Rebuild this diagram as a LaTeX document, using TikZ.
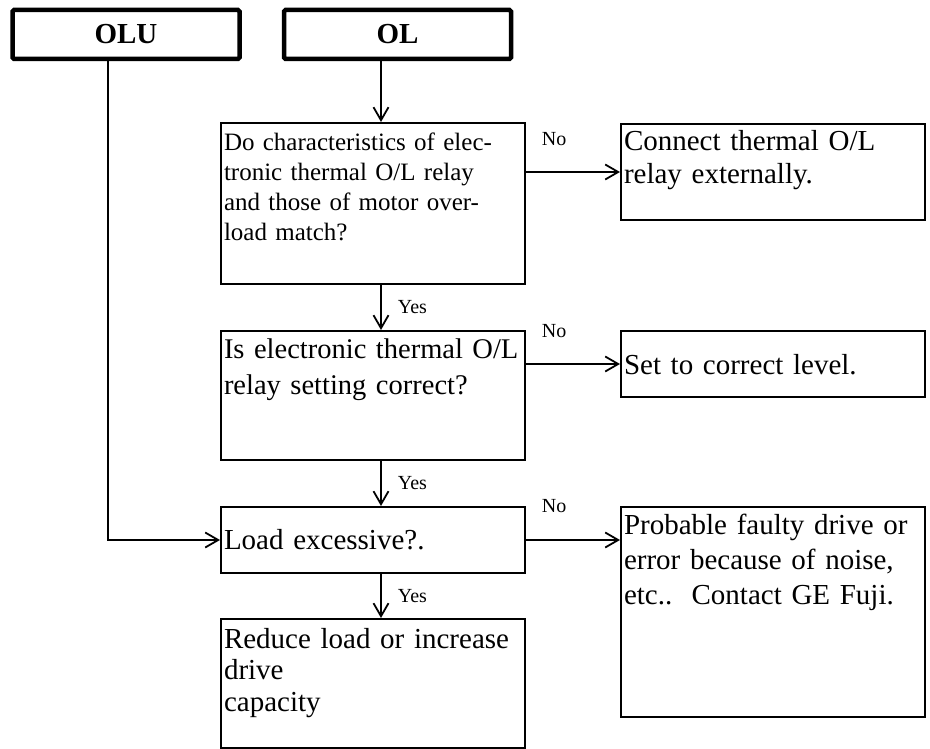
\documentclass[tikz,border=0pt]{standalone}
\usepackage{fontspec}
\setmainfont{Liberation Serif}
\usetikzlibrary{arrows.meta,positioning,calc}

\begin{document}
\begin{tikzpicture}[
	x=1pt, y=-1pt,
	startbox/.style={draw, line width=4.5pt, rounded corners=1.5pt,
		minimum width=227pt, minimum height=49pt, inner sep=0pt,
		font=\fontsize{29}{34}\selectfont\bfseries},
	flowbox/.style={draw, line width=2pt, anchor=north west,
		inner xsep=3pt, inner ysep=0pt, text width=298pt, align=left,
		font=\fontsize{29}{35}\selectfont},
	arr/.style={line width=1.8pt, -{Straight Barb[length=13pt,width=15pt]}},
	lbl/.style={font=\fontsize{20}{24}\selectfont, inner sep=2pt}
	]
	
	\useasboundingbox (0,0) rectangle (930,749);
	
	% starting codes
	\node[startbox] (olu) at (126,34.5) {OLU};
	\node[startbox] (ol) at (397.5,34.5) {OL};
	
	\coordinate (trunk) at (108,0);
	\coordinate (spine) at (381,0);
	
	% questions
	\node[
	flowbox,
	text height=28pt, text depth=133pt,
	font=\fontsize{25}{30}\selectfont
	] (q1) at (220,122)
	{Do characteristics of elec-\\tronic thermal O/L relay\\and those of motor over-\\load match?};
	
	\node[
	flowbox,
	text height=27pt, text depth=102pt,
	font=\fontsize{28.5}{36}\selectfont
	] (q2) at (220,330)
	{\mbox{Is electronic thermal O/L}\\relay setting correct?};
	
	\node[
	flowbox,
	text height=42pt, text depth=24pt
	] (q3) at (220,506)
	{Load excessive?.};
	
	\node[
	flowbox,
	text height=29pt, text depth=100pt,
	font=\fontsize{29}{31.5}\selectfont
	] (rd) at (220,618)
	{Reduce load or increase\\drive\\capacity};
	
	% remedies
	\node[
	flowbox,
	text height=27pt, text depth=69pt,
	font=\fontsize{29}{33}\selectfont
	] (a1) at (620,123)
	{Connect thermal O/L\\relay externally.};
	
	\node[
	flowbox,
	text height=43pt, text depth=23pt
	] (a2) at (620,330)
	{Set to correct level.};
	
	\node[
	flowbox,
	text height=27pt, text depth=183pt
	] (a3) at (620,506)
	{Probable faulty drive or\\error because of noise,\\etc..\ \ Contact GE Fuji.};
	
	% connectors
	\draw[arr] (ol.south -| spine) -- (q1.north -| spine);
	\draw[arr] (q1.south -| spine) -- node[lbl, right=14pt] (y1) {Yes} (q2.north -| spine);
	\draw[arr] (q2.south -| spine) -- node[lbl, right=14pt] (y2) {Yes} (q3.north -| spine);
	\draw[arr] (q3.south -| spine) -- node[lbl, right=14pt] (y3) {Yes} (rd.north -| spine);
	
	\draw[arr] (q1.east |- a1.west) -- node[lbl, pos=0.3, yshift=33pt] (n1) {No} (a1.west);
	\draw[arr] (q2.east |- a2.west) -- node[lbl, pos=0.3, yshift=33pt] (n2) {No} (a2.west);
	\draw[arr] (q3.east) -- node[lbl, pos=0.3, yshift=34pt] (n3) {No} (q3.east -| a3.west);
	
	\draw[arr] (olu.south -| trunk) |- (q3.west);
	
\end{tikzpicture}
\end{document}
